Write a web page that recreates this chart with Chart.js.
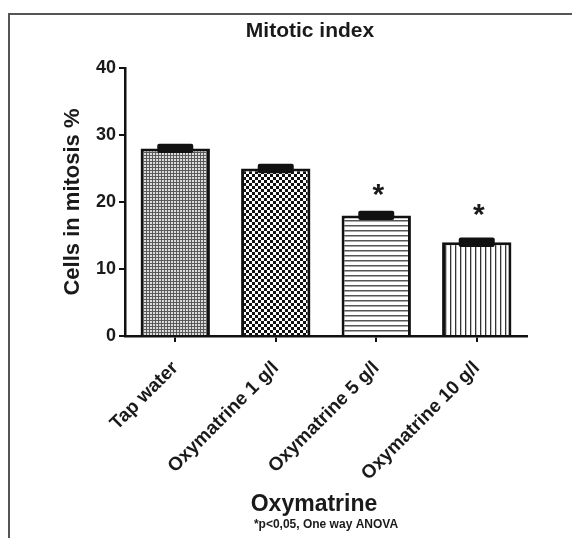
<!DOCTYPE html>
<html>
<head>
<meta charset="utf-8">
<script src="https://cdn.jsdelivr.net/npm/chart.js@4.4.1/dist/chart.umd.min.js"></script>
<style>
  html, body { margin: 0; padding: 0; background: #fff; }
</style>
</head>
<body>
<canvas id="c" width="572" height="538"></canvas>
<script>
var categories = ['Tap water', 'Oxymatrine 1 g/l', 'Oxymatrine 5 g/l', 'Oxymatrine 10 g/l'];
var means = [28, 25, 18, 14];
var sems = [0.7, 0.7, 0.7, 0.7];
var starMarks = ['', '', '*', '*'];
var starLevels = [null, null, 21.8, 18.9];
var yMin = 0, yMax = 40, yStep = 10;

var chartTitle = 'Mitotic index';
var xTitle = 'Oxymatrine';
var yTitle = 'Cells in mitosis %';
var footNote = '*p<0,05, One way ANOVA';

var FONT = "'Liberation Sans', Arial, Helvetica, sans-serif";
var INK = '#1a1a1a';

var canvas = document.getElementById('c');
var ctx0 = canvas.getContext('2d');

// little helper for the hatch fills
var makePattern = function(w, h, paint) {
  var c = document.createElement('canvas');
  c.width = w; c.height = h;
  var g = c.getContext('2d');
  g.fillStyle = '#fff';
  g.fillRect(0, 0, w, h);
  paint(g);
  return ctx0.createPattern(c, 'repeat');
}

var fills = [
  makePattern(3, 3, function(g) { g.fillStyle = '#5a5a5a'; g.fillRect(0, 0, 3, 3); g.fillStyle = '#dcdcdc'; g.fillRect(0, 0, 2, 2); }),
  makePattern(6, 6, function(g) { g.fillStyle = '#111'; g.fillRect(0, 0, 3, 3); g.fillRect(3, 3, 3, 3); }),
  makePattern(4, 5, function(g) { g.fillStyle = '#555'; g.fillRect(0, 0, 4, 1.5); }),
  makePattern(5, 4, function(g) { g.fillStyle = '#333'; g.fillRect(0, 0, 1.3, 4); })
];

// frame + title + x title + footnote (title plugin can't be shifted off-centre)
var framePlugin = {
  id: 'frame',
  beforeDraw: function(chart) {
    var ctx = chart.ctx;
    ctx.save();
    ctx.strokeStyle = '#555';
    ctx.lineWidth = 2;
    ctx.beginPath();
    ctx.moveTo(9, 538);
    ctx.lineTo(9, 14);
    ctx.lineTo(572, 14);
    ctx.stroke();
    ctx.restore();
  },
  afterDraw: function(chart) {
    var ctx = chart.ctx;
    ctx.save();
    ctx.fillStyle = INK;
    ctx.textAlign = 'center';
    ctx.textBaseline = 'middle';
    ctx.font = 'bold 21px ' + FONT;
    ctx.fillText(chartTitle, 310, 31);
    ctx.font = 'bold 23px ' + FONT;
    ctx.fillText(xTitle, 314, 505);
    ctx.font = 'bold 12px ' + FONT;
    ctx.fillText(footNote, 326, 525);
    ctx.restore();
  }
};

var errorBarPlugin = {
  id: 'errorBars',
  afterDatasetsDraw: function(chart) {
    var ctx = chart.ctx, y = chart.scales.y;
    var meta = chart.getDatasetMeta(0);
    ctx.save();
    meta.data.forEach(function(bar, i) {
      var top = y.getPixelForValue(means[i] + sems[i]);
      var bot = y.getPixelForValue(means[i] - sems[i]);
      ctx.fillStyle = '#111';
      ctx.beginPath();
      ctx.roundRect(bar.x - 18, top, 36, bot - top, 2);
      ctx.fill();
      if (starMarks[i]) {
        ctx.font = 'bold 30px ' + FONT;
        ctx.textAlign = 'center';
        ctx.textBaseline = 'middle';
        ctx.fillStyle = INK;
        ctx.fillText(starMarks[i], bar.x + 2, y.getPixelForValue(starLevels[i]) + 6);
      }
    });
    ctx.restore();
  }
};

var chart = new Chart(canvas, {
  type: 'bar',
  data: {
    labels: categories,
    datasets: [{
      data: means,
      backgroundColor: fills,
      borderColor: '#111',
      borderWidth: 3,
      categoryPercentage: 1,
      barPercentage: 0.69
    }]
  },
  options: {
    responsive: false,
    animation: false,
    layout: { padding: { top: 68, left: 0, right: 45, bottom: 0 } },
    plugins: {
      legend: { display: false },
      tooltip: { enabled: false }
    },
    scales: {
      x: {
        afterFit: function(scale) { scale.height = 202; },
        border: { color: '#111', width: 2.5 },
        grid: { drawOnChartArea: false, offset: false, color: '#111', lineWidth: 2, tickLength: 6 },
        ticks: {
          color: INK,
          font: { family: FONT, size: 19, weight: 'bold' },
          minRotation: 45,
          maxRotation: 45,
          padding: 15
        }
      },
      y: {
        min: yMin,
        max: yMax,
        afterFit: function(scale) { scale.width = 125; },
        border: { color: '#111', width: 2.5 },
        grid: { drawOnChartArea: false, color: '#111', lineWidth: 2, tickLength: 6 },
        ticks: {
          stepSize: yStep,
          color: INK,
          font: { family: FONT, size: 18, weight: 'bold' },
          padding: 3
        },
        title: {
          display: true,
          text: yTitle,
          color: INK,
          font: { family: FONT, size: 22, weight: 'bold', lineHeight: 1 },
          padding: { top: 62, bottom: 0 }
        }
      }
    }
  },
  plugins: [framePlugin, errorBarPlugin]
});
</script>
</body>
</html>
